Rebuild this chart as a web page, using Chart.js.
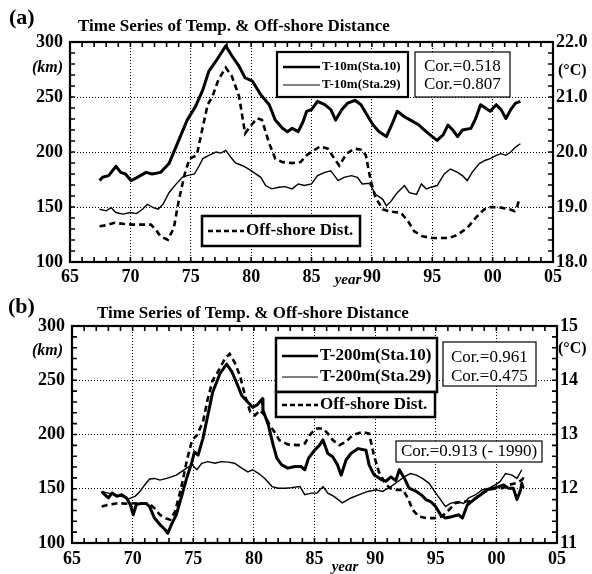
<!DOCTYPE html>
<html><head><meta charset="utf-8">
<script src="https://cdn.jsdelivr.net/npm/chart.js@4.4.1/dist/chart.umd.min.js"></script>
<style>
html,body{margin:0;padding:0;background:#fff;}
#wrap{position:relative;width:592px;height:574px;background:#fff;}
canvas{position:absolute;left:0;}
#ca{top:0}
#cb{top:287px}
</style></head><body>
<div id="wrap"><canvas id="ca" width="592" height="287"></canvas><canvas id="cb" width="592" height="287"></canvas></div>
<script>
// ---------- Panel (a): T-10m ----------
const a_sta10_year = [
1967.45,1967.7,1968.2,1968.8,1969.2,1969.6,1970.05,1970.5,1971.3,1971.8,
1972.5,1973.2,1974.0,1974.7,1975.4,1976.0,1976.5,1977.2,1977.9,1978.4,
1979.0,1979.5,1980.1,1980.8,1981.5,1982.0,1982.6,1983.0,1983.4,1983.9,
1984.3,1984.6,1985.0,1985.5,1986.1,1986.6,1987.0,1987.5,1988.0,1988.6,
1989.1,1989.5,1990.1,1990.6,1991.2,1991.7,1992.1,1992.7,1993.2,1993.9,
1994.5,1995.0,1995.4,1995.9,1996.3,1996.7,1997.1,1997.5,1998.2,1998.6,
1999.0,1999.4,1999.8,2000.3,2000.7,2001.1,2001.5,2001.9,2002.3];
const a_sta10_temp = [
19.48,19.54,19.57,19.74,19.63,19.60,19.48,19.53,19.63,19.60,
19.63,19.79,20.21,20.58,20.83,21.13,21.47,21.69,21.93,21.75,
21.56,21.35,21.29,21.04,20.86,20.58,20.43,20.37,20.43,20.37,
20.55,20.74,20.77,20.92,20.86,20.77,20.58,20.77,20.89,20.94,
20.86,20.71,20.49,20.37,20.28,20.52,20.74,20.64,20.58,20.49,
20.37,20.28,20.21,20.31,20.49,20.40,20.28,20.40,20.43,20.61,
20.86,20.80,20.74,20.86,20.77,20.61,20.77,20.89,20.92];

const a_sta29_year = [
1967.45,1968.0,1968.4,1968.8,1969.4,1970.0,1970.5,1971.0,1971.4,1971.9,
1972.3,1972.7,1973.2,1973.8,1974.3,1974.7,1975.3,1975.7,1976.0,1976.5,
1977.1,1977.5,1977.9,1978.3,1978.7,1979.3,1979.8,1980.2,1980.8,1981.2,
1981.7,1982.3,1982.8,1983.4,1983.9,1984.4,1985.0,1985.5,1986.1,1986.6,
1987.2,1987.7,1988.3,1988.8,1989.2,1989.8,1990.3,1990.9,1991.2,1991.6,
1992.1,1992.7,1993.1,1993.7,1994.1,1994.5,1994.9,1995.4,1996.0,1996.5,
1997.1,1997.5,1997.9,1998.3,1998.9,1999.4,1999.8,2000.3,2000.7,2001.1,
2001.5,2001.9,2002.3];
const a_sta29_temp = [
18.96,18.93,18.99,18.90,18.87,18.90,18.88,18.96,19.05,18.99,
18.96,19.05,19.26,19.42,19.54,19.57,19.60,19.75,19.88,19.94,
20.00,19.98,20.03,19.91,19.80,19.75,19.69,19.63,19.54,19.39,
19.33,19.36,19.37,19.33,19.42,19.39,19.42,19.57,19.63,19.66,
19.48,19.54,19.57,19.54,19.42,19.43,19.23,19.14,19.02,19.11,
19.26,19.39,19.26,19.23,19.42,19.33,19.36,19.39,19.60,19.69,
19.63,19.57,19.48,19.63,19.79,19.85,19.88,19.94,19.97,19.94,
20.00,20.09,20.15];

const a_dist_year = [
1967.45,1968.0,1968.7,1969.4,1970.2,1970.9,1971.7,1972.1,1972.5,1973.1,
1973.6,1974.0,1974.5,1974.9,1975.5,1976.0,1976.4,1976.8,1977.3,1977.9,
1978.4,1979.0,1979.5,1979.9,1980.5,1980.9,1981.5,1982.0,1982.6,1983.4,
1984.1,1984.6,1985.0,1985.7,1986.35,1986.9,1987.3,1987.9,1988.55,1989.2,
1989.5,1989.9,1990.3,1990.9,1991.6,1992.4,1993.0,1993.5,1994.2,1995.0,
1995.7,1996.4,1997.1,1997.9,1998.6,1999.3,1999.85,2000.7,2001.4,2001.8,
2002.05,2002.2];
const a_dist_km = [
132.5,133.4,135.6,134.7,134.0,134.0,134.0,129.4,123.3,120.2,
131.0,155.5,180.0,193.9,197.0,223.0,243.0,250.6,266.0,276.7,
269.0,250.6,216.9,223.0,230.7,229.0,207.7,193.9,190.8,189.9,
190.8,197.0,200.0,205.0,203.0,193.9,187.7,198.5,203.0,202.0,
197.0,174.0,158.6,147.9,145.7,144.8,137.0,128.0,123.3,121.8,
121.8,121.8,124.8,131.0,140.2,147.9,150.0,149.4,147.9,146.3,
151.0,157.0];

// ---------- Panel (b): T-200m ----------
const b_sta10_year = [
1967.45,1967.7,1968.0,1968.3,1968.7,1969.1,1969.5,1969.8,1970.05,1970.3,
1970.7,1971.1,1971.4,1971.8,1972.25,1972.7,1972.9,1973.2,1973.6,1974.0,
1974.45,1974.9,1975.1,1975.4,1975.8,1976.2,1976.6,1977.2,1977.75,1978.2,
1978.6,1979.0,1979.5,1979.9,1980.3,1980.7,1980.75,1981.2,1981.6,1981.9,
1982.3,1982.8,1983.4,1983.9,1984.2,1984.5,1985.0,1985.4,1985.7,1986.1,
1986.5,1986.9,1987.2,1987.6,1988.0,1988.6,1989.25,1989.5,1989.9,1990.5,
1990.9,1991.3,1991.7,1992.0,1992.4,1992.8,1993.4,1993.8,1994.2,1994.6,
1995.0,1995.4,1995.8,1996.4,1996.9,1997.2,1997.6,1998.15,1998.7,1999.2,
1999.8,2000.2,2000.6,2001.0,2001.4,2001.7,2002.0,2002.1,2002.2];
const b_sta10_temp = [
11.95,11.89,11.83,11.92,11.86,11.89,11.83,11.71,11.52,11.71,
11.73,11.73,11.67,11.46,11.34,11.24,11.18,11.34,11.52,11.83,
12.19,12.50,12.68,12.62,12.93,13.35,13.78,14.12,14.30,14.15,
13.94,13.72,13.60,13.50,13.55,13.66,13.45,13.17,12.80,12.56,
12.44,12.38,12.41,12.41,12.35,12.56,12.71,12.80,12.90,12.65,
12.59,12.44,12.25,12.53,12.65,12.74,12.71,12.44,12.26,12.17,
12.14,12.22,12.15,12.35,12.20,12.01,11.95,11.89,11.80,11.76,
11.67,11.52,11.46,11.49,11.52,11.46,11.70,11.80,11.89,11.98,
12.01,12.04,12.07,12.01,12.01,11.80,11.98,12.10,12.01];

const b_sta29_year = [
1967.45,1968.0,1968.5,1969.1,1969.6,1970.2,1970.6,1971.0,1971.4,1971.8,
1972.25,1972.8,1973.2,1973.6,1974.0,1974.45,1974.9,1975.3,1975.7,1976.2,
1976.8,1977.3,1977.9,1978.4,1979.0,1979.5,1979.9,1980.4,1980.9,1981.5,
1982.0,1982.6,1983.1,1983.8,1984.2,1984.75,1985.2,1985.7,1986.1,1986.6,
1987.3,1988.0,1988.7,1989.4,1990.1,1990.6,1991.3,1991.85,1992.4,1992.9,
1993.4,1993.9,1994.45,1994.9,1995.4,1995.8,1996.2,1996.8,1997.3,1997.7,
1998.3,1998.8,1999.4,1999.9,2000.3,2000.75,2001.3,2001.7,2002.1];
const b_sta29_temp = [
11.95,11.92,11.89,11.86,11.81,11.86,11.95,12.07,12.18,12.19,
12.16,12.19,12.22,12.25,12.31,12.38,12.44,12.35,12.47,12.50,
12.47,12.50,12.49,12.47,12.38,12.31,12.35,12.28,12.19,12.04,
12.01,12.01,12.02,12.04,11.89,11.92,11.92,12.04,11.92,11.86,
11.74,11.83,11.89,11.95,11.98,11.95,12.04,12.13,12.22,12.28,
12.25,12.19,12.10,11.95,11.80,11.67,11.73,11.76,11.73,11.83,
11.89,11.98,12.01,12.07,12.13,12.28,12.25,12.19,12.35];

const b_dist_year = [
1967.45,1968.0,1968.8,1969.6,1970.3,1971.3,1971.8,1972.25,1972.7,1973.1,
1973.5,1974.0,1974.45,1974.9,1975.3,1975.8,1976.2,1976.6,1977.1,1977.6,
1978.0,1978.4,1978.85,1979.3,1979.7,1980.1,1980.5,1980.9,1981.3,1981.7,
1982.1,1982.8,1983.65,1984.2,1984.6,1985.1,1985.7,1986.1,1986.5,1987.05,
1987.6,1988.15,1988.97,1989.5,1989.9,1990.3,1990.75,1991.2,1991.7,1992.3,
1992.7,1993.1,1993.6,1994.3,1994.9,1995.5,1996.1,1996.6,1997.2,1997.7,
1998.3,1998.8,1999.4,1999.9,2000.5,2001.0,2001.6,2002.1,2002.3];
const b_dist_km = [
133.6,135.2,136.7,136.1,136.7,136.7,132.1,126.0,122.9,121.4,
129.0,150.5,175.0,194.8,199.4,211.6,233.0,249.8,259.0,269.7,
274.3,266.7,254.4,234.6,220.8,217.7,222.3,217.7,208.6,202.4,
194.8,190.8,190.2,191.7,199.4,205.5,205.5,200.9,194.8,190.2,
193.3,199.4,202.4,200.9,181.0,165.7,156.6,150.5,149.0,149.0,
141.3,130.6,124.5,122.9,122.9,124.5,130.6,136.7,138.2,138.2,
141.3,145.9,149.0,150.5,150.5,153.5,155.1,158.1,161.0];

// ---------- Axis / label texts ----------
const TITLE = 'Time Series of Temp. & Off-shore Distance';
const a_legend = ['T-10m(Sta.10)', 'T-10m(Sta.29)', 'Off-shore Dist.'];
const b_legend = ['T-200m(Sta.10)', 'T-200m(Sta.29)', 'Off-shore Dist.'];
const a_cor = ['Cor.=0.518', 'Cor.=0.807'];
const b_cor = ['Cor.=0.961', 'Cor.=0.475', 'Cor.=0.913 (- 1990)'];
const a_rightRange = [18, 22];
const b_rightRange = [11, 15];
const kmRange = [100, 300];

const SERIF = '"Liberation Serif","Times New Roman",serif';
const pts = (xs, ys) => xs.map((x, i) => ({x, y: ys[i]}));

const framePlugin = {
  id: 'frame',
  afterDatasetsDraw(chart, args, o) {
    const {ctx, chartArea: a, scales} = chart;
    ctx.save();
    ctx.strokeStyle = '#000';
    ctx.lineWidth = 1.6;
    ctx.beginPath();
    for (let yr = 1965; yr <= 2005; yr++) {
      const p = scales.x.getPixelForValue(yr);
      ctx.moveTo(p, a.bottom); ctx.lineTo(p, a.bottom - 5);
      ctx.moveTo(p, a.top); ctx.lineTo(p, a.top + 5);
    }
    for (let v = kmRange[0]; v <= kmRange[1]; v += 10) {
      const p = scales.y.getPixelForValue(v);
      ctx.moveTo(a.left, p); ctx.lineTo(a.left + 5, p);
    }
    const [r0, r1] = o.range;
    for (let i = 0; i <= 20; i++) {
      const p = scales.yR.getPixelForValue(r0 + i * (r1 - r0) / 20);
      ctx.moveTo(a.right, p); ctx.lineTo(a.right - 5, p);
    }
    ctx.stroke();
    ctx.lineWidth = 2.2;
    ctx.strokeRect(a.left, a.top, a.right - a.left, a.bottom - a.top);
    ctx.restore();
  }
};

const annotPlugin = {
  id: 'annot',
  afterDraw(chart, args, o) {
    const ctx = chart.ctx;
    ctx.save();
    for (const it of o.items) {
      if (it.t === 'box') {
        ctx.fillStyle = '#fff';
        ctx.fillRect(it.x, it.y, it.w, it.h);
        ctx.strokeStyle = '#000'; ctx.lineWidth = it.lw; ctx.setLineDash([]);
        ctx.strokeRect(it.x, it.y, it.w, it.h);
      } else if (it.t === 'line') {
        ctx.strokeStyle = '#000'; ctx.lineWidth = it.lw; ctx.setLineDash(it.dash || []);
        ctx.beginPath(); ctx.moveTo(it.x1, it.y); ctx.lineTo(it.x2, it.y); ctx.stroke();
        ctx.setLineDash([]);
      } else {
        ctx.fillStyle = '#000';
        ctx.font = it.font;
        ctx.textAlign = it.align || 'left';
        ctx.textBaseline = it.base || 'middle';
        ctx.fillText(it.text, it.x, it.y);
      }
    }
    ctx.restore();
  }
};

function tickFont() { return {family: SERIF, size: 18, weight: 'bold'}; }

function makeChart(id, cfg) {
  const gridStyle = {color: '#000', lineWidth: 1, drawTicks: false};
  const borderStyle = {display: true, color: '#000', width: 2, dash: [1, 2]};
  return new Chart(document.getElementById(id), {
    type: 'line',
    data: {datasets: [
      {label: cfg.legend[0], data: cfg.s10, yAxisID: 'yR', borderColor: '#000', borderWidth: 3, pointRadius: 0, tension: 0, borderJoinStyle: 'round'},
      {label: cfg.legend[1], data: cfg.s29, yAxisID: 'yR', borderColor: '#000', borderWidth: 1.4, pointRadius: 0, tension: 0},
      {label: cfg.legend[2], data: cfg.dist, yAxisID: 'y', borderColor: '#000', borderWidth: 2.6, borderDash: [6, 4], pointRadius: 0, tension: 0}
    ]},
    options: {
      responsive: false, animation: false, devicePixelRatio: 1,
      parsing: true,
      layout: {padding: {top: cfg.top, left: 0, right: 0, bottom: 0}},
      plugins: {legend: {display: false}, title: {display: false}, tooltip: {enabled: false},
        frame: {range: cfg.rRange}, annot: {items: cfg.items}},
      scales: {
        x: {type: 'linear', min: 1965, max: 2005,
          ticks: {stepSize: 5, padding: cfg.xPad, color: '#000', font: tickFont(), maxRotation: 0, autoSkip: false,
            callback: v => String(Math.round(v) % 100).padStart(2, '0')},
          grid: gridStyle, border: borderStyle, afterFit: s => { s.height = cfg.xH; }},
        y: {type: 'linear', position: 'left', min: kmRange[0], max: kmRange[1],
          ticks: {stepSize: 50, padding: 7, color: '#000', font: tickFont()},
          grid: gridStyle, border: borderStyle, afterFit: s => { s.width = cfg.left; }},
        yR: {type: 'linear', position: 'right', min: cfg.rRange[0], max: cfg.rRange[1],
          ticks: {stepSize: 1, padding: 3, color: '#000', font: tickFont(), callback: cfg.rFmt},
          grid: {drawOnChartArea: false, drawTicks: false}, border: {display: true, color: '#000', width: 2},
          afterFit: s => { s.width = cfg.right; }}
      }
    },
    plugins: [framePlugin, annotPlugin]
  });
}

const fB = s => 'bold ' + s + 'px ' + SERIF;
const fBI = s => 'italic bold ' + s + 'px ' + SERIF;
const fR = s => s + 'px ' + SERIF;

makeChart('ca', {
  s10: pts(a_sta10_year, a_sta10_temp), s29: pts(a_sta29_year, a_sta29_temp), dist: pts(a_dist_year, a_dist_km),
  legend: a_legend, rRange: a_rightRange, rFmt: v => v.toFixed(1),
  top: 42, left: 70, right: 39, xH: 25, xPad: 5,
  items: [
    {text: '(a)', x: 9, y: 24, font: fB(22), base: 'alphabetic'},
    {text: TITLE, x: 78, y: 31, font: fB(17), base: 'alphabetic'},
    {text: '(km)', x: 63, y: 68, font: fBI(16), align: 'right'},
    {text: '(°C)', x: 558, y: 71, font: fB(16)},
    {text: 'year', x: 348, y: 284, font: fBI(15), align: 'center', base: 'alphabetic'},
    {t: 'box', x: 277, y: 52, w: 131, h: 45, lw: 2.2},
    {t: 'line', x1: 283, x2: 320, y: 67, lw: 2.5},
    {text: a_legend[0], x: 322, y: 67, font: fB(13)},
    {t: 'line', x1: 283, x2: 320, y: 85, lw: 1.2},
    {text: a_legend[1], x: 322, y: 85, font: fB(13)},
    {t: 'box', x: 415, y: 52, w: 95, h: 45, lw: 1.2},
    {text: a_cor[0], x: 424, y: 67, font: fR(17)},
    {text: a_cor[1], x: 424, y: 85, font: fR(17)},
    {t: 'box', x: 202, y: 216, w: 158, h: 30, lw: 2.5},
    {t: 'line', x1: 208, x2: 244, y: 231, lw: 2.5, dash: [5, 3]},
    {text: a_legend[2], x: 246, y: 231, font: fB(17)}
  ]
});

makeChart('cb', {
  s10: pts(b_sta10_year, b_sta10_temp), s29: pts(b_sta29_year, b_sta29_temp), dist: pts(b_dist_year, b_dist_km),
  legend: b_legend, rRange: b_rightRange, rFmt: v => String(v),
  top: 39, left: 72, right: 35, xH: 31, xPad: 6,
  items: [
    {text: '(b)', x: 8, y: 26, font: fB(22), base: 'alphabetic'},
    {text: TITLE, x: 97, y: 31, font: fB(17), base: 'alphabetic'},
    {text: '(km)', x: 63, y: 64, font: fBI(16), align: 'right'},
    {text: '(°C)', x: 558, y: 62, font: fB(16)},
    {text: 'year', x: 345, y: 284, font: fBI(15), align: 'center', base: 'alphabetic'},
    {t: 'box', x: 276, y: 51, w: 161, h: 54, lw: 2.5},
    {t: 'line', x1: 282, x2: 318, y: 69, lw: 2.5},
    {text: b_legend[0], x: 320, y: 69, font: fB(17)},
    {t: 'line', x1: 282, x2: 318, y: 90, lw: 1.2},
    {text: b_legend[1], x: 320, y: 90, font: fB(17)},
    {t: 'box', x: 276, y: 105, w: 159, h: 25, lw: 2.5},
    {t: 'line', x1: 282, x2: 318, y: 118, lw: 2.5, dash: [5, 3]},
    {text: b_legend[2], x: 320, y: 118, font: fB(17)},
    {t: 'box', x: 443, y: 55, w: 93, h: 44, lw: 1.2},
    {text: b_cor[0], x: 451, y: 71, font: fR(17)},
    {text: b_cor[1], x: 451, y: 90, font: fR(17)},
    {t: 'box', x: 396, y: 154, w: 146, h: 21, lw: 1.2},
    {text: b_cor[2], x: 469, y: 165, font: fR(17), align: 'center'}
  ]
});
</script>
</body></html>
